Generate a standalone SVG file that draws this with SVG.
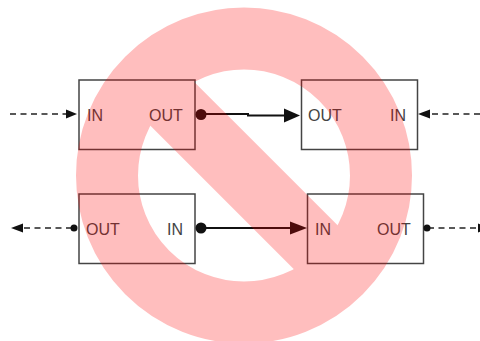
<svg xmlns="http://www.w3.org/2000/svg" width="480" height="341" viewBox="0 0 480 341">
<style>
.box{fill:#fff;stroke:#444;stroke-width:1.5}
.t{font-family:"Liberation Sans",Arial,sans-serif;font-size:16px;fill:#444}
.s{fill:none;stroke:#111;stroke-width:2}
.d{fill:none;stroke:#222;stroke-width:1.7;stroke-dasharray:6 4.500}
.h{fill:#111}
.ban{fill:none;stroke:#f00;stroke-width:62}
</style>
<g id="node-a"><rect class="box" x="79" y="80" width="116" height="69.500"/><text class="t" x="87" y="120.500">IN</text><text class="t" x="149" y="120.500">OUT</text></g>
<g id="node-b"><rect class="box" x="301.500" y="80" width="116" height="69.500"/><text class="t" x="308" y="120.500">OUT</text><text class="t" x="390" y="120.500">IN</text></g>
<g id="node-c"><rect class="box" x="79" y="194" width="116" height="69.500"/><text class="t" x="86" y="234.500">OUT</text><text class="t" x="167" y="234.500">IN</text></g>
<g id="node-d"><rect class="box" x="307.500" y="194" width="116" height="69.500"/><text class="t" x="315" y="234.500">IN</text><text class="t" x="377" y="234.500">OUT</text></g>
<g id="connectors">
<path class="d" d="M10 114H68"/><path class="h" d="M77 114L66 109.500V118.500Z"/>
<path class="s" d="M201 114H248V115.500H288"/><circle class="h" cx="201" cy="114.500" r="5.500"/><path class="h" d="M300 115.500L284 108.500V122.500Z"/>
<path class="d" d="M480 114H428"/><path class="h" d="M418 114L430 109.500V118.500Z"/>
<path class="d" d="M72 228H22"/><circle class="h" cx="74" cy="228" r="3.500"/><path class="h" d="M11 228L23 223.500V232.500Z"/>
<path class="s" d="M201 228H292"/><circle class="h" cx="201" cy="228" r="5.500"/><path class="h" d="M307 228L290 221.500V234.500Z"/>
<path class="d" d="M428 228H476"/><circle class="h" cx="427" cy="228" r="3.500"/><path class="h" d="M478 223.500L490 228L478 232.500Z"/>
</g>
<g id="prohibition" opacity=".25"><circle class="ban" cx="244" cy="175.500" r="137"/><path class="ban" d="M147.100 78.600L340.900 272.400"/></g>
</svg>
